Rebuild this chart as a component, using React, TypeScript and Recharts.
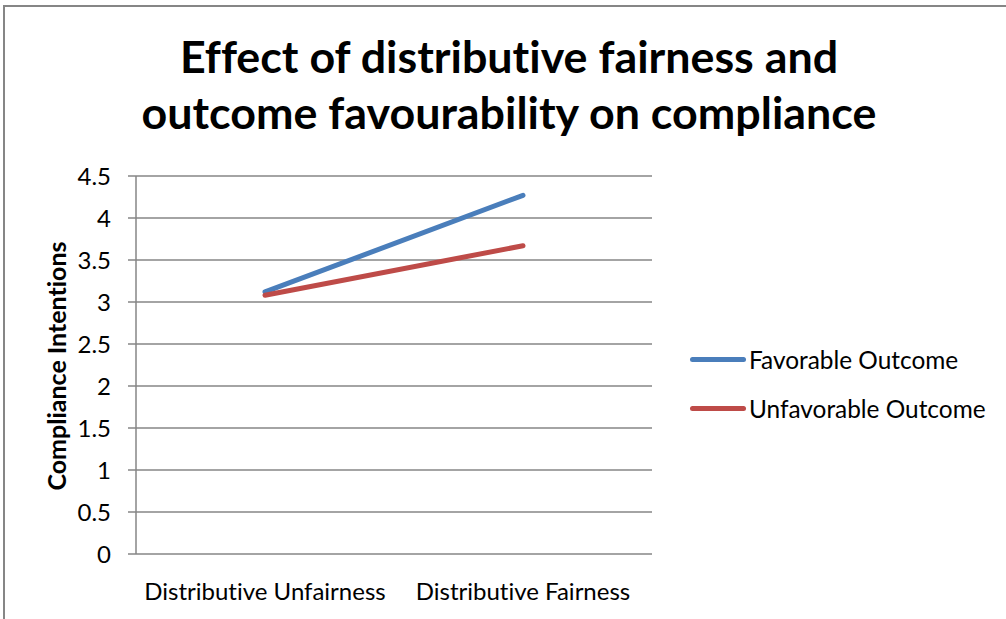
import React from "react";
import {
  CartesianGrid,
  Label,
  Line,
  LineChart,
  XAxis,
  YAxis,
} from "recharts";

const conditions = ["Distributive Unfairness", "Distributive Fairness"];
const favorable = [3.12, 4.27];
const unfavorable = [3.08, 3.67];
const yTicks = [0, 0.5, 1, 1.5, 2, 2.5, 3, 3.5, 4, 4.5];

const BLUE = "#4A7EBB";
const RED = "#BE4B48";
const GRID = "#868686";
const FONT = "Lato, 'Open Sans', sans-serif";
const NO_LIG = { fontVariantLigatures: "none" as const };

const data = conditions.map((cond, i) => ({
  cond,
  favorable: favorable[i],
  unfavorable: unfavorable[i],
}));

const legendItems = [
  { name: "Favorable Outcome", color: BLUE },
  { name: "Unfavorable Outcome", color: RED },
];

const YLabel = (props: any) => {
  const { viewBox } = props;
  const cy = viewBox.y + viewBox.height / 2 + 1;
  const cx = 56;
  return (
    <text
      x={cx}
      y={cy}
      transform={`rotate(-90, ${cx}, ${cy})`}
      textAnchor="middle"
      dominantBaseline="central"
      style={{
        fontFamily: FONT,
        fontWeight: 700,
        fontSize: 25,
        fill: "#000",
        ...NO_LIG,
      }}
    >
      Compliance Intentions
    </text>
  );
};

export default function App() {
  return (
    <div
      style={{
        position: "absolute",
        left: 0,
        top: 0,
        width: 1006,
        height: 619,
        background: "#fff",
        overflow: "hidden",
        fontFamily: FONT,
        ...NO_LIG,
      }}
    >
      <div
        style={{
          position: "absolute",
          left: 3,
          top: 5,
          width: 1100,
          height: 700,
          border: `2px solid ${GRID}`,
        }}
      />
      <div
        style={{
          position: "absolute",
          left: 0,
          top: 28,
          width: 1018,
          textAlign: "center",
          fontWeight: 700,
          fontSize: 44.8,
          lineHeight: "56px",
          color: "#000",
        }}
      >
        Effect of distributive fairness and
        <br />
        outcome favourability on compliance
      </div>

      <div style={{ position: "absolute", left: 0, top: 0 }}>
        <LineChart
          width={1006}
          height={619}
          data={data}
          margin={{ top: 176, right: 354, bottom: 0, left: 0 }}
        >
          <CartesianGrid
            xAxisId="frame"
            vertical={false}
            stroke={GRID}
            strokeWidth={1.5}
          />
          <XAxis
            xAxisId="frame"
            type="number"
            domain={[0, 2]}
            ticks={[0, 1, 2]}
            tick={false}
            height={0}
            tickSize={8}
            axisLine={{ stroke: GRID, strokeWidth: 1.5 }}
            tickLine={{ stroke: GRID, strokeWidth: 1.5 }}
          />
          <XAxis
            xAxisId="cat"
            dataKey="cond"
            height={65}
            padding={{ left: 129, right: 129 }}
            axisLine={false}
            tickLine={false}
            tickMargin={23}
            tick={{ fontFamily: FONT, fontSize: 24, fill: "#000" }}
          />
          <YAxis
            width={136}
            domain={[0, 4.5]}
            ticks={yTicks}
            interval={0}
            tickSize={8}
            tickMargin={17}
            axisLine={{ stroke: GRID, strokeWidth: 1.5 }}
            tickLine={{ stroke: GRID, strokeWidth: 1.5 }}
            tick={{ fontFamily: FONT, fontSize: 24, fill: "#000" }}
          >
            <Label content={<YLabel />} />
          </YAxis>
          <Line
            xAxisId="cat"
            dataKey="favorable"
            stroke={BLUE}
            strokeWidth={5}
            strokeLinecap="round"
            dot={false}
            activeDot={false}
            isAnimationActive={false}
          />
          <Line
            xAxisId="cat"
            dataKey="unfavorable"
            stroke={RED}
            strokeWidth={5}
            strokeLinecap="round"
            dot={false}
            activeDot={false}
            isAnimationActive={false}
          />
        </LineChart>
      </div>

      {legendItems.map((item, i) => (
        <div
          key={item.name}
          style={{
            position: "absolute",
            left: 690,
            top: 344 + i * 49,
            height: 30,
            display: "flex",
            alignItems: "center",
            fontSize: 24.4,
            color: "#000",
          }}
        >
          <span
            style={{
              display: "inline-block",
              width: 56,
              height: 5,
              borderRadius: 3,
              background: item.color,
              marginRight: 3,
            }}
          />
          {item.name}
        </div>
      ))}
    </div>
  );
}
